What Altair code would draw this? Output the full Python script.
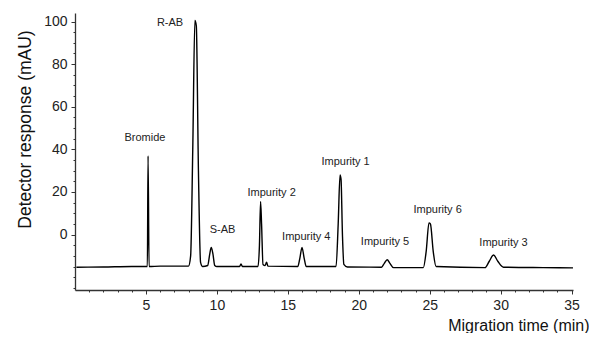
import altair as alt
import pandas as pd

# Electropherogram trace (time in min, response in mAU)
times = [0.1, 2.0, 4.0, 5.1, 5.15, 5.22, 6.0, 8.0, 8.15, 8.3, 8.45, 8.55, 8.7, 8.85, 9.0,
         9.35, 9.5, 9.6, 9.72, 9.85, 10.0, 11.6, 11.7, 11.8, 12.9, 13.0, 13.08, 13.15, 13.25,
         13.4, 13.5, 13.6, 15.7, 15.85, 16.0, 16.15, 16.3, 18.4, 18.55, 18.68, 18.75, 18.85,
         18.95, 19.2, 21.6, 21.8, 22.0, 22.2, 22.45, 24.55, 24.75, 24.95, 25.05, 25.25, 25.45,
         28.9, 29.2, 29.5, 29.8, 30.2, 33.0, 35.1]
signal = [-15.3, -15.2, -15.0, -15.0, 37.0, -15.0, -14.8, -14.8, -10.0, 40.0, 100.5, 98.0, 30.0, -13.0, -15.0,
          -14.5, -9.0, -6.0, -9.0, -14.5, -15.0, -15.0, -13.8, -15.0, -15.0, -5.0, 15.5, 5.0, -14.0,
          -14.5, -13.0, -14.8, -15.0, -11.0, -6.0, -11.0, -15.0, -15.0, 5.0, 28.0, 26.0, 0.0,
          -14.0, -15.2, -15.3, -13.5, -11.8, -13.5, -15.5, -15.5, -8.0, 5.5, 5.0, -8.0, -15.0,
          -15.5, -12.5, -9.6, -12.5, -15.3, -15.5, -15.6]

# Peak labels
label_names = ["Bromide", "R-AB", "S-AB", "Impurity 2", "Impurity 4", "Impurity 1",
               "Impurity 5", "Impurity 6", "Impurity 3"]
label_x = [4.93, 6.7, 10.4, 13.86, 16.3, 19.07, 21.85, 25.56, 30.2]
label_y = [45.5, 99.5, 2.3, 19.7, -1.0, 34.0, -3.6, 11.7, -3.8]

x_major = [5, 10, 15, 20, 25, 30, 35]
x_minor = list(range(1, 36))
y_major = [0, 20, 40, 60, 80, 100]
y_minor = list(range(-25, 101, 5))

trace = pd.DataFrame({"t": times, "v": signal})
labels = pd.DataFrame({"name": label_names, "x": label_x, "y": label_y})

font = "Liberation Sans"

x_scale = alt.Scale(domain=[0, 35.1], nice=False, zero=False)
y_scale = alt.Scale(domain=[-26, 104], nice=False, zero=False)

line = alt.Chart(trace).mark_line(color="black", strokeWidth=1.4, interpolate="monotone").encode(
    x=alt.X("t:Q", scale=x_scale, axis=alt.Axis(
        orient="bottom", values=x_major, title="Migration time (min)", grid=False,
        tickSize=4, tickColor="#333", domainColor="#333", labelColor="#222",
        labelFont=font, labelFontSize=14, labelPadding=4,
        titleFont=font, titleFontSize=16, titleFontWeight="normal", titleColor="#111",
        titleX=514, titleY=40, titleAlign="right", titleBaseline="alphabetic",
        titleAnchor="end", domainWidth=1.3)),
    y=alt.Y("v:Q", scale=y_scale, axis=alt.Axis(
        orient="left", values=y_major, title="Detector response (mAU)", grid=False,
        tickSize=4, tickColor="#333", domainColor="#333", labelColor="#222",
        labelFont=font, labelFontSize=14, labelPadding=4,
        titleFont=font, titleFontSize=17.5, titleFontWeight="normal", titleColor="#111",
        titleX=-50, titleY=116, titleAngle=-90, titleAlign="center", titleBaseline="middle",
        domainWidth=1.3)),
)

minor = alt.Chart(trace).mark_point(opacity=0).encode(
    x=alt.X("t:Q", scale=x_scale, axis=alt.Axis(
        orient="bottom", values=x_minor, labels=False, title=None, grid=False,
        domain=False, tickSize=2, tickColor="#333")),
    y=alt.Y("v:Q", scale=y_scale, axis=alt.Axis(
        orient="left", values=y_minor, labels=False, title=None, grid=False,
        domain=False, tickSize=2, tickColor="#333")),
)

text = alt.Chart(labels).mark_text(font=font, fontSize=11, color="#222", align="center",
                                   baseline="middle").encode(
    x=alt.X("x:Q", scale=x_scale, axis=None),
    y=alt.Y("y:Q", scale=y_scale, axis=None),
    text="name:N",
)

chart = alt.layer(line, minor, text).resolve_axis(x="independent", y="independent").properties(
    width=498, height=277,
    autosize=alt.AutoSizeParams(type="none"),
    padding={"left": 67, "top": 5, "right": 16, "bottom": 43},
).configure_view(stroke=None)

chart.save("out.html", embed_options={"renderer": "svg", "actions": False})
